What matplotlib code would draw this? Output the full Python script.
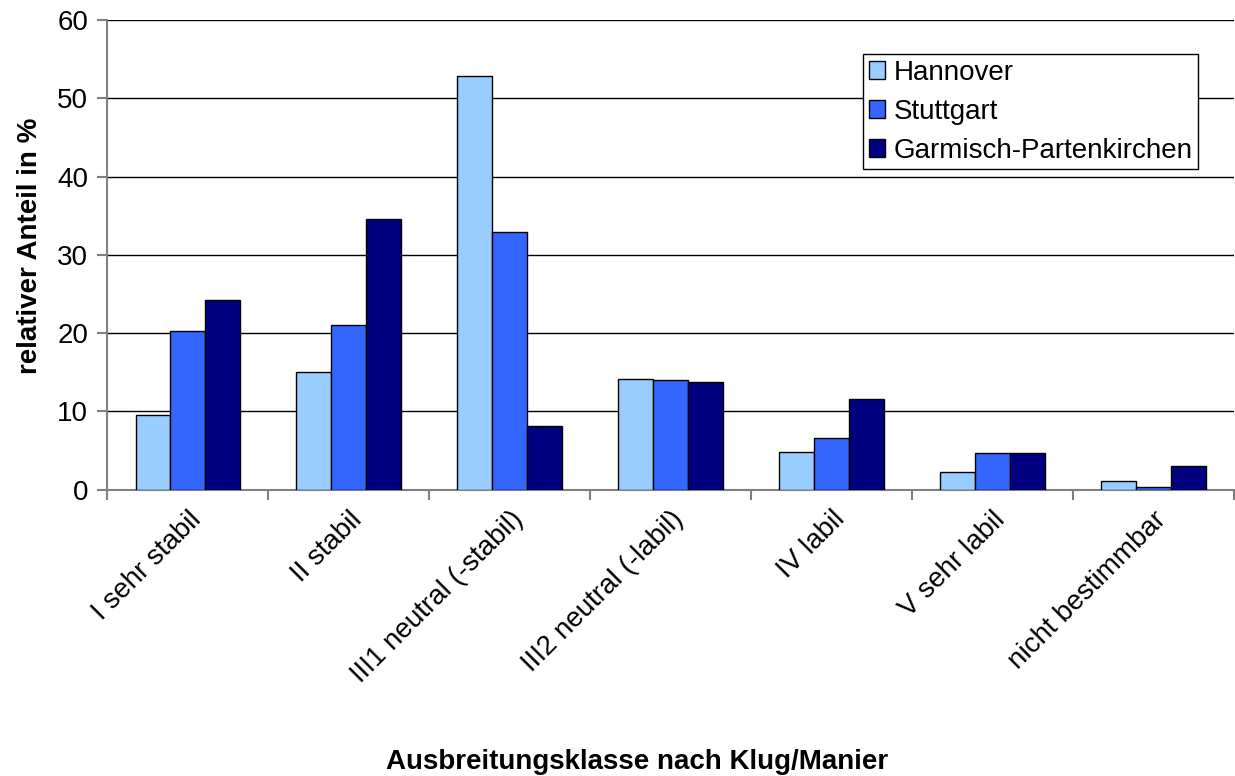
import numpy as np
from matplotlib import pyplot as plt

plt.rcParams['font.family'] = ['Liberation Sans', 'DejaVu Sans']

# Kategorien (Ausbreitungsklassen)
klassen = ['I sehr stabil', 'II stabil', 'III1 neutral (-stabil)', 'III2 neutral (-labil)',
           'IV labil', 'V sehr labil', 'nicht bestimmbar']
# relative Anteile in %
hannover = [9.6, 15.1, 52.9, 14.1, 4.8, 2.3, 1.1]
stuttgart = [20.3, 21.1, 32.9, 14.0, 6.6, 4.7, 0.3]
garmisch = [24.2, 34.6, 8.1, 13.7, 11.6, 4.7, 3.0]

fs = 20

fig = plt.figure(figsize=(12.35, 7.76), dpi=100)
ax = fig.add_axes([0.087, 0.369, 0.912, 0.605])

x = np.arange(len(klassen))
w = 0.217
b1 = ax.bar(x - w, hannover, w, color='#99CCFF', edgecolor='black', linewidth=1, zorder=3)
b2 = ax.bar(x, stuttgart, w, color='#3366FF', edgecolor='black', linewidth=1, zorder=3)
b3 = ax.bar(x + w, garmisch, w, color='#000080', edgecolor='black', linewidth=1, zorder=3)

ax.set_xlim(-0.5, len(klassen) - 0.5)
ax.set_ylim(0, 60)
ax.set_yticks(range(0, 61, 10))
ax.yaxis.grid(True, color='black', linewidth=1, zorder=0)
ax.set_axisbelow(True)

ax.set_xticks(x)
ax.set_xticklabels(klassen, rotation=45, ha='right', rotation_mode='anchor', fontsize=fs)
ax.tick_params(axis='x', length=0, pad=12)
ax.set_xticks(np.arange(-0.5, len(klassen)), minor=True)
ax.tick_params(axis='x', which='minor', length=7, color='#808080', width=1.5)
ax.tick_params(axis='y', length=7, color='#808080', width=1.5, labelsize=fs, pad=7)

for s in ['top', 'right']:
    ax.spines[s].set_visible(False)
for s in ['left', 'bottom']:
    ax.spines[s].set_color('#808080')
    ax.spines[s].set_linewidth(1.5)

fig.text(30 / 1235, 1 - 246 / 776, 'relativer Anteil in %', fontsize=fs, fontweight='bold',
         rotation=90, ha='center', va='center')
fig.text(637 / 1235, 1 - 762 / 776, 'Ausbreitungsklasse nach Klug/Manier', fontsize=fs,
         fontweight='bold', ha='center', va='center')

leg = ax.legend([b1, b2, b3], ['Hannover', 'Stuttgart', 'Garmisch-Partenkirchen'],
                loc='upper left', bbox_to_anchor=(0.6708, 0.9276), fontsize=fs, frameon=True,
                fancybox=False, edgecolor='black', framealpha=1, borderpad=0.2,
                handlelength=0.6, handleheight=0.6, handletextpad=0.3, labelspacing=0.47,
                borderaxespad=0)
leg.get_frame().set_linewidth(1)

plt.savefig('out.png', dpi=100)
